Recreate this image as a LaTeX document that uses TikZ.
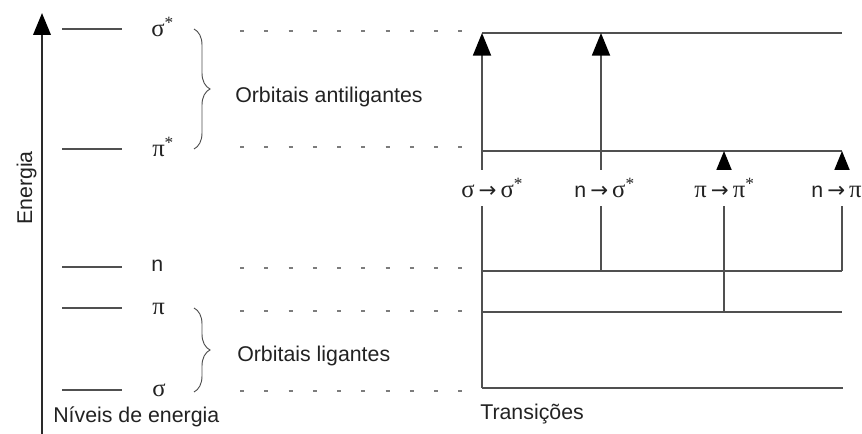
\documentclass[tikz,border=0pt]{standalone}
\usepackage{fontspec}
\setmainfont{Liberation Sans}
\newfontfamily\grk{Liberation Serif}
\newfontfamily\arw{DejaVu Sans}
\usetikzlibrary{arrows.meta,decorations.pathreplacing}
\definecolor{linegray}{HTML}{505050}
\definecolor{axisgray}{HTML}{2A2A2A}
\definecolor{txtgray}{HTML}{222222}
\tikzset{
  level/.style={draw=linegray, line width=1.2pt},
  guide/.style={draw=linegray!75, line width=1.1pt, dash pattern=on 3pt off 15.2pt},
  trans/.style={draw=linegray, line width=1.4pt, -{Triangle[length=17pt,width=13.5pt,color=black]}},
  lbl/.style={font=\fontsize{16}{19}\selectfont, text=txtgray, inner sep=0pt},
  glbl/.style={font=\grk\fontsize{18.5}{21}\selectfont, text=txtgray, inner sep=0pt},
  tlbl/.style={glbl, fill=white, minimum height=27pt, inner xsep=1.5pt},
  orbbrace/.style={draw=linegray, line width=0.7pt, decorate, decoration={brace, amplitude=12pt}}
}
\newcommand{\st}{\textsuperscript{*}}
\newcommand{\nn}{{\fontspec{Liberation Sans}\fontsize{16}{19}\selectfont n}}
\newcommand{\ar}{\,{\arw\fontsize{16}{19}\selectfont →}\,}

\begin{document}
\begin{tikzpicture}[x=0.75pt, y=-0.75pt, >=Stealth]
    \useasboundingbox (0,0) rectangle (862,434);
    % energy axis
    \coordinate (axbot) at (42,445);
    \coordinate (axtop) at (42,13);
    \draw[draw=axisgray, line width=2pt, -{Triangle[length=16.5pt,width=13pt,color=black]}] (axbot) -- (axtop);
    \node[lbl, rotate=90, anchor=base] (energia) at (32,188) {Energia};

    % levels
    \coordinate (lSs) at (62,29);  \coordinate (lSe) at (122,29);
    \coordinate (lPs) at (62,149); \coordinate (lPe) at (122,149);
    \coordinate (lNs) at (62,267); \coordinate (lNe) at (122,267);
    \coordinate (lps) at (62,308); \coordinate (lpe) at (122,308);
    \coordinate (lss) at (62,390); \coordinate (lse) at (122,390);
    \draw[level] (lSs) -- (lSe);
    \draw[level] (lPs) -- (lPe);
    \draw[level] (lNs) -- (lNe);
    \draw[level] (lps) -- (lpe);
    \draw[level] (lss) -- (lse);

    \node[glbl, anchor=base west] (sigS) at (151,37) {σ\st};
    \node[glbl, anchor=base west] (piS) at (152,157) {π\st};
    \node[glbl, anchor=base west] (nlev) at (151,272) {\nn};
    \node[glbl, anchor=base west] (pilev) at (152,314) {π};
    \node[glbl, anchor=base west] (siglev) at (152,396) {σ};

    \draw[orbbrace] (194,29) -- (194,149);
    \draw[orbbrace] (194,308) -- (194,392);
    \node[lbl, anchor=base west] (orbanti) at (235,103) {Orbitais antiligantes};
    \node[lbl, anchor=base west] (orblig) at (237,361) {Orbitais ligantes};
    \node[lbl, anchor=base west] (niveis) at (53,422) {Níveis de energia};

    % guides
    \coordinate (gSs) at (240,31);  \coordinate (gSe) at (465,31);
    \coordinate (gPs) at (240,147); \coordinate (gPe) at (465,147);
    \coordinate (gNs) at (240,268); \coordinate (gNe) at (465,268);
    \coordinate (gps) at (240,311); \coordinate (gpe) at (465,311);
    \coordinate (gss) at (240,391); \coordinate (gse) at (465,391);
    \draw[guide] (gSs) -- (gSe);
    \draw[guide] (gPs) -- (gPe);
    \draw[guide] (gNs) -- (gNe);
    \draw[guide] (gps) -- (gpe);
    \draw[guide] (gss) -- (gse);

    % transitions
    \coordinate (rSs) at (482,33);  \coordinate (rSe) at (842,33);
    \coordinate (rPs) at (482,151); \coordinate (rPe) at (842,151);
    \coordinate (rNs) at (482,271); \coordinate (rNe) at (842,271);
    \coordinate (rps) at (482,312); \coordinate (rpe) at (842,312);
    \coordinate (rss) at (482,388); \coordinate (rse) at (843,388);
    \coordinate (c1) at (482,0);
    \coordinate (c2) at (601,0);
    \coordinate (c3) at (724,0);
    \coordinate (c4) at (842,0);
    \draw[level, line width=1.4pt] (rSs) -- (rSe);
    \draw[level, line width=1.4pt] (rPs) -- (rPe);
    \draw[level, line width=1.4pt] (rNs) -- (rNe);
    \draw[level, line width=1.4pt] (rps) -- (rpe);
    \draw[level, line width=1.7pt] (rss) -- (rse);
    \draw[trans] (c1 |- rss) -- (c1 |- rSs);
    \draw[trans] (c2 |- rNs) -- (c2 |- rSs);
    \draw[trans] (c3 |- rps) -- (c3 |- rPs);
    \draw[trans] (c4 |- rNs) -- (c4 |- rPs);

    \node[tlbl, anchor=base west] (t1) at (459,198) {σ\ar σ\st};
    \node[tlbl, anchor=base west] (t2) at (572,198) {\nn\ar σ\st};
    \node[tlbl, anchor=base west] (t3) at (692,198) {π\ar π\st};
    \node[tlbl, anchor=base west] (t4) at (809,198) {\nn\ar π\st};
    \node[lbl, anchor=base west] (trans) at (480,419) {Transições};
\end{tikzpicture}
\end{document}
